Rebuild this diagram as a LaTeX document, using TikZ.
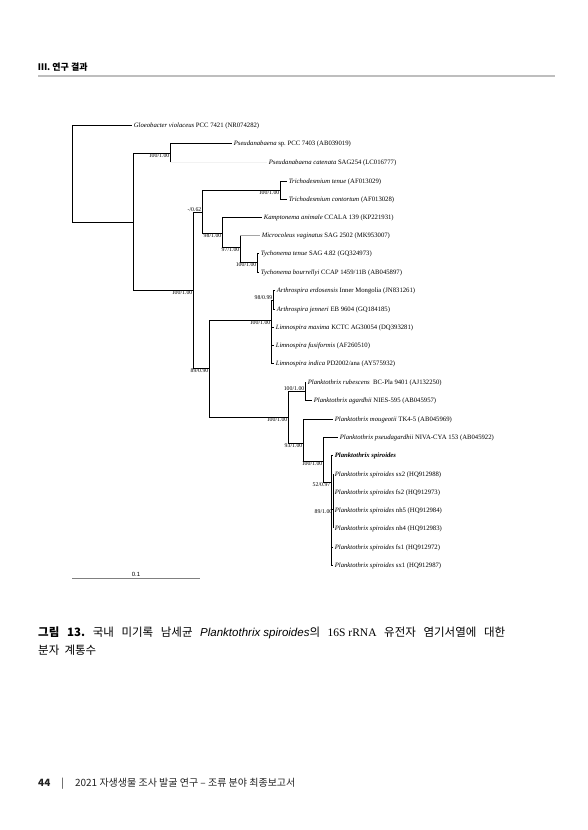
\documentclass[tikz,border=0pt]{standalone}
\usepackage{fontspec}
\setmainfont{Liberation Serif}
\newfontfamily\krfont{Noto Sans CJK KR}
\newfontfamily\barfont{Liberation Sans}
\usetikzlibrary{positioning}
\definecolor{rulegray}{RGB}{190,190,190}
\definecolor{faintline}{RGB}{165,165,165}
\definecolor{footgray}{RGB}{35,35,35}
\frenchspacing

\begin{document}
\begin{tikzpicture}[x=1pt, y=-1pt,
    branch/.style={line width=0.7pt, black},
    faint/.style={line width=0.6pt, faintline},
    tip/.style={anchor=west, inner sep=1.6pt, font=\fontsize{6.7}{7}\selectfont,
                text height=1.6ex, text depth=0.45ex},
    bsbelow/.style={anchor=north east, inner sep=0.5pt, font=\fontsize{5.8}{6}\selectfont},
    bsabove/.style={anchor=south east, inner sep=0.5pt, font=\fontsize{5.8}{6}\selectfont}]
  \fill[white] (0,0) rectangle (587,830);
  \useasboundingbox (0,0) rectangle (587,830);

  % page head
  \node[anchor=base west, inner sep=0, font=\krfont\bfseries\fontsize{9}{10}\selectfont] (head) at (38,70) {Ⅲ. 연구 결과};
  \draw[rulegray, line width=1.5pt] (38,76) -- (555,76);

  % taxa (tip labels, x = end of branch)
  \foreach \n/\lx/\ly/\txt in {
      t1/132/125/{\textit{Gloeobacter violaceus} PCC 7421 (NR074282)},
      t2/232/143/{\textit{Pseudanabaena} sp. PCC 7403 (AB039019)},
      t3/267/162/{\textit{Pseudanabaena catenata} SAG254 (LC016777)},
      t4/287/181/{\textit{Trichodesmium tenue} (AF013029)},
      t5/287/199/{\textit{Trichodesmium contortum} (AF013028)},
      t6/262/217/{\textit{Kamptonema animale} CCALA 139 (KP221931)},
      t7/260/235/{\textit{Microcoleus vaginatus} SAG 2502 (MK953007)},
      t8/259/253/{\textit{Tychonema tenue} SAG 4.82 (GQ324973)},
      t9/259/272/{\textit{Tychonema bourrellyi} CCAP 1459/11B (AB045897)},
      t10/275/290/{\textit{Arthrospira erdosensis} Inner Mongolia (JN831261)},
      t11/275/309/{\textit{Arthrospira jenneri} EB 9604 (GQ184185)},
      t12/274/327/{\textit{Limnospira maxima} KCTC AG30054 (DQ393281)},
      t13/274/345/{\textit{Limnospira fusiformis} (AF260510)},
      t14/274/363/{\textit{Limnospira indica} PD2002/ana (AY575932)},
      t15/306/382/{\textit{Planktothrix rubescens}\ \ BC-Pla 9401 (AJ132250)},
      t16/312/400/{\textit{Planktothrix agardhii} NIES-595 (AB045957)},
      t17/333/419/{\textit{Planktothrix mougeotii} TK4-5 (AB045969)},
      t18/338/437/{\textit{Planktothrix pseudagardhii} NIVA-CYA 153 (AB045922)},
      t19/333/455/{\textbf{\textit{Planktothrix spiroides}}},
      t20/333/474/{\textit{Planktothrix spiroides} sx2 (HQ912988)},
      t21/333/492/{\textit{Planktothrix spiroides} fs2 (HQ912973)},
      t22/333/510/{\textit{Planktothrix spiroides} nh5 (HQ912984)},
      t23/333/528/{\textit{Planktothrix spiroides} nh4 (HQ912983)},
      t24/333/547/{\textit{Planktothrix spiroides} fs1 (HQ912972)},
      t25/333/565/{\textit{Planktothrix spiroides} sx1 (HQ912987)}}
    \node[tip] (\n) at (\lx,\ly) {\txt};

  % inner nodes
  \coordinate (root) at (72,174);
  \coordinate (nA) at (133,222);
  \coordinate (nP) at (170,153);
  \coordinate (nB) at (193,290);
  \coordinate (nC) at (202,212);
  \coordinate (nTr) at (280,190);
  \coordinate (nE) at (222,233);
  \coordinate (nF) at (240,247);
  \coordinate (nG) at (257,262);
  \coordinate (nD) at (209,368);
  \coordinate (nH) at (271,320);
  \coordinate (nI) at (273,300);
  \coordinate (nJ) at (288,417);
  \coordinate (nK2) at (305,391);
  \coordinate (nK) at (303,443);
  \coordinate (nL) at (323,461);
  \coordinate (nM) at (331,482);
  \coordinate (nN) at (333,509);

  % branches
  \foreach \p/\c in {root/t1, root/nA, nA/nP, nA/nB, nP/t2, nB/nC, nB/nD,
      nC/nTr, nC/nE, nTr/t4, nTr/t5, nE/t6, nE/nF, nF/nG, nG/t8, nG/t9,
      nD/nH, nD/nJ, nH/nI, nH/t12, nH/t13, nH/t14, nI/t10, nI/t11,
      nJ/nK2, nJ/nK, nK2/t15, nK2/t16, nK/t17, nK/nL, nL/t18, nL/nM,
      nM/t19, nM/nN, nM/t24, nM/t25, nN/t20, nN/t21, nN/t22, nN/t23}
    \draw[branch] (\p) |- (\c);
  % pale branches
  \draw[branch] (nP) -- (nP |- t3);
  \draw[faint, black!5] (nP |- t3) -- (t3);
  \draw[branch] (nF) -- (nF |- t7);
  \draw[faint] (nF |- t7) -- (t7);

  % bootstrap / posterior values
  \foreach \c/\s/\v in {nP/bsbelow/{100/1.00}, nTr/bsbelow/{100/1.00},
      nC/bsabove/{-/0.62}, nE/bsbelow/{98/1.00}, nF/bsbelow/{97/1.00},
      nG/bsbelow/{100/1.00}, nB/bsbelow/{100/1.00}, nI/bsabove/{98/0.99},
      nH/bsbelow/{100/1.00}, nD/bsbelow/{89/0.90}, nK2/bsabove/{100/1.00},
      nJ/bsbelow/{100/1.00}, nK/bsbelow/{93/1.00}, nL/bsbelow/{100/1.00},
      nM/bsbelow/{52/0.97}, nN/bsbelow/{89/1.00}}
    \node[\s] at (\c) {\v};

  % scale bar
  \coordinate (sbL) at (72,578);
  \coordinate (sbR) at (200,578);
  \draw[line width=0.6pt, gray] (sbL) -- (sbR)
    node[midway, above=0.5pt, inner sep=0.5pt, font=\barfont\fontsize{6}{7}\selectfont, black] (sblab) {0.1};

  % caption
  \node[anchor=base west, inner sep=0, font=\krfont\fontsize{11.5}{13}\selectfont] (cap1) at (38,636)
    {\makebox[467pt][s]{{\bfseries 그림 13.} 국내 미기록 남세균 \mbox{\barfont\itshape Planktothrix spiroides}의 \mbox{\rmfamily 16S rRNA} 유전자 염기서열에 대한}};
  \node[anchor=base west, inner sep=0, font=\krfont\fontsize{11.5}{13}\selectfont] (cap2) at (38,654) {분자\ \ 계통수};

  % page foot
  \node[anchor=base west, inner sep=0, text=footgray, font=\krfont\fontsize{10}{11}\selectfont] (foot) at (38,786)
    {\textbf{44}\hspace{11pt}|\hspace{11pt}2021 자생생물 조사 발굴 연구 – 조류 분야 최종보고서};
\end{tikzpicture}
\end{document}
